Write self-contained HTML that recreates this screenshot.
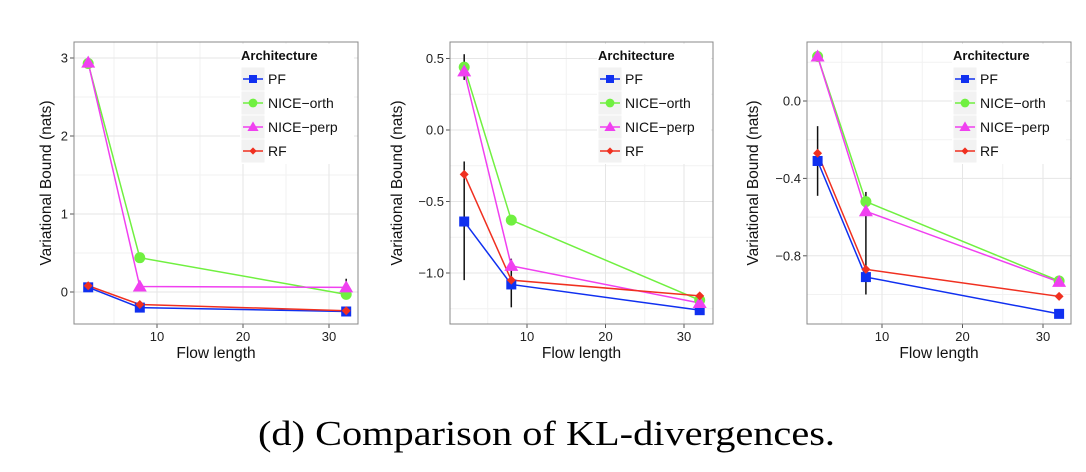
<!DOCTYPE html>
<html><head><meta charset="utf-8">
<style>
html,body{margin:0;padding:0;background:#fff;}
svg{display:block;font-family:"Liberation Sans",sans-serif;}
</style></head>
<body>
<svg id="fig" width="1086" height="472" viewBox="0 0 1086 472" xmlns="http://www.w3.org/2000/svg">
<text x="258" y="445" font-family="Liberation Serif, serif" font-size="35" textLength="577" lengthAdjust="spacingAndGlyphs" fill="#000">(d) Comparison of KL-divergences.</text>
</svg>
<script>
const flowLengths = [2, 8, 32];
const seriesNames = ["PF", "NICE−orth", "NICE−perp", "RF"];
// Panel 1 values
const p1PF = [0.06, -0.2, -0.25];
const p1Orth = [2.93, 0.44, -0.03];
const p1Perp = [2.94, 0.07, 0.06];
const p1RF = [0.08, -0.16, -0.24];
const p1YTicks = [0, 1, 2, 3];
const p1YTickLabels = ["0", "1", "2", "3"];
const p1ErrLo = [[2, 2.9, 2.96], [8, 0.02, 0.1], [32, 0.0, 0.17]];
// Panel 2 values
const p2PF = [-0.64, -1.08, -1.26];
const p2Orth = [0.44, -0.63, -1.19];
const p2Perp = [0.41, -0.95, -1.21];
const p2RF = [-0.31, -1.05, -1.16];
const p2YTicks = [0.5, 0, -0.5, -1.0];
const p2YTickLabels = ["0.5", "0.0", "-0.5", "-1.0"];
const p2Err = [[2, 0.35, 0.53], [2, -1.05, -0.22], [8, -1.24, -0.9]];
// Panel 3 values
const p3PF = [-0.31, -0.91, -1.1];
const p3Orth = [0.23, -0.52, -0.93];
const p3Perp = [0.23, -0.57, -0.935];
const p3RF = [-0.27, -0.87, -1.01];
const p3YTicks = [0.0, -0.4, -0.8];
const p3YTickLabels = ["0.0", "-0.4", "-0.8"];
const p3Err = [[2, -0.49, -0.13], [8, -1.0, -0.47]];
const xTicks = [10, 20, 30];
const xTickLabels = ["10", "20", "30"];

const colors = ["#1030f0", "#70f040", "#f040f0", "#f03020"];
const NS = "http://www.w3.org/2000/svg";
const svg = document.getElementById("fig");
function mk(tag, attrs, parent) {
  const e = document.createElementNS(NS, tag);
  for (const k in attrs) e.setAttribute(k, attrs[k]);
  (parent || svg).appendChild(e);
  return e;
}
function marker(g, i, x, y, s) {
  let m;
  if (i === 0) m = mk("rect", {x: x - 5*s, y: y - 5*s, width: 10*s, height: 10*s, fill: colors[0]}, g);
  else if (i === 1) m = mk("circle", {cx: x, cy: y, r: 5.5*s, fill: colors[1]}, g);
  else if (i === 2) m = mk("polygon", {points: `${x},${y-7*s} ${x-7*s},${y+5*s} ${x+7*s},${y+5*s}`, fill: colors[2]}, g);
  else m = mk("polygon", {points: `${x},${y-4.5*s} ${x+4.5*s},${y} ${x},${y+4.5*s} ${x-4.5*s},${y}`, fill: colors[3]}, g);
  return m;
}
function panel(cfg) {
  const g = mk("g", {});
  
  
  const L = cfg.left, R = cfg.right, T = 42, B = 324;
  const xs = v => cfg.x10 + (v - 10) * cfg.xk;
  const ys = v => cfg.y0 + (v - cfg.yv0) * -cfg.yk;
  mk("rect", {x: L, y: T, width: R - L, height: B - T, fill: "#fff"}, g);
  const minorX = [5, 15, 25];
  minorX.forEach(v => mk("line", {x1: xs(v), x2: xs(v), y1: T, y2: B, stroke: "#f2f2f2", "stroke-width": 1}, g));
  for (let k = 0; k < cfg.yTicks.length - 1; k++) {
    const v = (cfg.yTicks[k] + cfg.yTicks[k+1]) / 2;
    mk("line", {x1: L, x2: R, y1: ys(v), y2: ys(v), stroke: "#f2f2f2"}, g);
  }
  const step = cfg.yTicks[1] - cfg.yTicks[0];
  [cfg.yTicks[0] - step/2, cfg.yTicks[cfg.yTicks.length-1] + step/2].forEach(v => {
    if (ys(v) > T && ys(v) < B) mk("line", {x1: L, x2: R, y1: ys(v), y2: ys(v), stroke: "#f2f2f2"}, g);
  });
  xTicks.forEach((v, i) => {
    mk("line", {x1: xs(v), x2: xs(v), y1: T, y2: B, stroke: "#e6e6e6"}, g);
    mk("line", {x1: xs(v), x2: xs(v), y1: B, y2: B + 4, stroke: "#555"}, g);
    const t = mk("text", {x: xs(v), y: B + 17, "text-anchor": "middle", "font-size": 13, fill: "#222"}, g);
    t.textContent = xTickLabels[i];
    
    
  });
  cfg.yTicks.forEach((v, i) => {
    mk("line", {x1: L, x2: R, y1: ys(v), y2: ys(v), stroke: "#e6e6e6"}, g);
    mk("line", {x1: L - 4, x2: L, y1: ys(v), y2: ys(v), stroke: "#555"}, g);
    const t = mk("text", {x: L - 6, y: ys(v) + 4.5, "text-anchor": "end", "font-size": 13, fill: "#222"}, g);
    t.textContent = cfg.yLabels[i].replace("-", "−");
    
    
  });
  mk("rect", {x: L, y: T, width: R - L, height: B - T, fill: "none", stroke: "#888", "stroke-width": 1}, g);
  cfg.err.forEach(e => {
    const l = mk("line", {x1: xs(e[0]), x2: xs(e[0]), y1: ys(e[1]), y2: ys(e[2]), stroke: "#111", "stroke-width": 1.5}, g);
    
    
  });
  cfg.series.forEach((vals, i) => {
    const pts = vals.map((v, j) => xs(flowLengths[j]) + "," + ys(v)).join(" ");
    const pl = mk("polyline", {points: pts, fill: "none", stroke: colors[i], "stroke-width": 1.5}, g);
    
    
  });
  cfg.series.forEach((vals, i) => {
    vals.forEach((v, j) => {
      const m = marker(g, i, xs(flowLengths[j]), ys(v), 1);
      
      
    });
  });
  const xt = mk("text", {x: (L + R) / 2, y: B + 34, "text-anchor": "middle", "font-size": 15.5, fill: "#111"}, g);
  xt.textContent = "Flow length";
  
  
  const yt = mk("text", {x: 0, y: 0, "text-anchor": "middle", "font-size": 15.5, fill: "#111", transform: `translate(${cfg.ylabX},183) rotate(-90)`}, g);
  yt.textContent = "Variational Bound (nats)";
  
  
  const lg = mk("g", {}, g);
  
  
  const lx = cfg.legX;
  mk("rect", {x: lx - 1, y: 44, width: 114, height: 120, fill: "#fff"}, lg);
  const tt = mk("text", {x: lx, y: 60, "font-size": 13, "font-weight": "bold", fill: "#111"}, lg);
  tt.textContent = "Architecture";
  
  
  seriesNames.forEach((n, i) => {
    const ky = 67 + i * 24;
    const e = mk("g", {}, lg);
    
    
    mk("rect", {x: lx, y: ky, width: 24, height: 24, fill: "#f2f2f2", stroke: "#fff", "stroke-width": 1}, e);
    mk("line", {x1: lx + 2, x2: lx + 22, y1: ky + 12, y2: ky + 12, stroke: colors[i], "stroke-width": 1.5}, e);
    marker(e, i, lx + 12, ky + 12, 0.8);
    const t = mk("text", {x: lx + 27, y: ky + 17, "font-size": 14, fill: "#111"}, e);
    t.textContent = n;
  });
}
panel({name: "panel-1", left: 74, right: 358, x10: 157, xk: 8.6, y0: 292, yv0: 0, yk: 78,
  yTicks: p1YTicks, yLabels: p1YTickLabels, err: p1ErrLo, series: [p1PF, p1Orth, p1Perp, p1RF], ylabX: 51, legX: 241});
panel({name: "panel-2", left: 450, right: 713, x10: 527, xk: 7.85, y0: 130, yv0: 0, yk: 143,
  yTicks: p2YTicks, yLabels: p2YTickLabels, err: p2Err, series: [p2PF, p2Orth, p2Perp, p2RF], ylabX: 402, legX: 598});
panel({name: "panel-3", left: 807, right: 1071, x10: 882, xk: 8.05, y0: 101, yv0: 0, yk: 193.5,
  yTicks: p3YTicks, yLabels: p3YTickLabels, err: p3Err, series: [p3PF, p3Orth, p3Perp, p3RF], ylabX: 758, legX: 953});
</script>
</body></html>
